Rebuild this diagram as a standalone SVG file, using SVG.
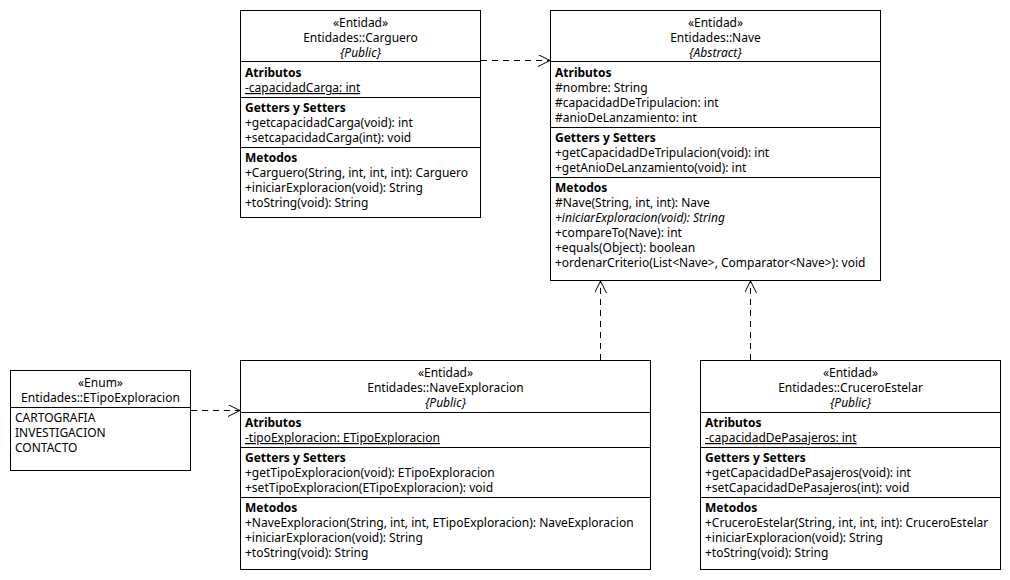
<svg xmlns="http://www.w3.org/2000/svg" width="1010" height="580" viewBox="0 0 1010 580">
<defs>
<style>
.box{fill:#fff;stroke:#000;stroke-width:1}
.div{stroke:#000;stroke-width:1}
text{font-family:"Noto Sans","Open Sans","DejaVu Sans",sans-serif;font-size:12px;fill:#000}
.c{text-anchor:middle}
.b{font-weight:bold}
.i{font-style:italic}
.u{text-decoration:underline}
.dep{fill:none;stroke:#000;stroke-width:1;stroke-dasharray:6,5}
</style>
<marker id="open" markerWidth="14" markerHeight="14" refX="12" refY="6" orient="auto" markerUnits="userSpaceOnUse">
<path d="M0,0 L12,6 L0,12" fill="none" stroke="#000" stroke-width="1"/>
</marker>
</defs>
<rect width="1010" height="580" fill="#fff"/>
<g id="connectors">
<line class="dep" x1="481" y1="60.5" x2="550" y2="60.5" marker-end="url(#open)"/>
<line class="dep" x1="600.5" y1="360" x2="600.5" y2="281" marker-end="url(#open)"/>
<line class="dep" x1="750.5" y1="360" x2="750.5" y2="281" marker-end="url(#open)"/>
<line class="dep" x1="191" y1="410.5" x2="240" y2="410.5" marker-end="url(#open)"/>
</g>
<g id="Carguero">
<rect class="box" x="240.5" y="10.5" width="240" height="207"/>
<line class="div" x1="240.5" y1="61.5" x2="480.5" y2="61.5"/>
<line class="div" x1="240.5" y1="97.5" x2="480.5" y2="97.5"/>
<line class="div" x1="240.5" y1="147.5" x2="480.5" y2="147.5"/>
<text class="c" x="360.5" y="27">«Entidad»</text>
<text class="c" x="360.5" y="42">Entidades::Carguero</text>
<text class="c i" x="360.5" y="57">{Public}</text>
<text class="b" x="245" y="77">Atributos</text>
<text class="u" x="245" y="92">-capacidadCarga: int</text>
<text class="b" x="245" y="112">Getters y Setters</text>
<text x="245" y="127">+getcapacidadCarga(void): int</text>
<text x="245" y="142">+setcapacidadCarga(int): void</text>
<text class="b" x="245" y="162">Metodos</text>
<text x="245" y="177">+Carguero(String, int, int, int): Carguero</text>
<text x="245" y="192">+iniciarExploracion(void): String</text>
<text x="245" y="207">+toString(void): String</text>
</g>
<g id="Nave">
<rect class="box" x="550.5" y="10.5" width="330" height="270"/>
<line class="div" x1="550.5" y1="61.5" x2="880.5" y2="61.5"/>
<line class="div" x1="550.5" y1="127.5" x2="880.5" y2="127.5"/>
<line class="div" x1="550.5" y1="177.5" x2="880.5" y2="177.5"/>
<text class="c" x="715.5" y="27">«Entidad»</text>
<text class="c" x="715.5" y="42">Entidades::Nave</text>
<text class="c i" x="715.5" y="57">{Abstract}</text>
<text class="b" x="555" y="77">Atributos</text>
<text x="555" y="92">#nombre: String</text>
<text x="555" y="107">#capacidadDeTripulacion: int</text>
<text x="555" y="122">#anioDeLanzamiento: int</text>
<text class="b" x="555" y="142">Getters y Setters</text>
<text x="555" y="157">+getCapacidadDeTripulacion(void): int</text>
<text x="555" y="172">+getAnioDeLanzamiento(void): int</text>
<text class="b" x="555" y="192">Metodos</text>
<text x="555" y="207">#Nave(String, int, int): Nave</text>
<text class="i" x="555" y="222">+iniciarExploracion(void): String</text>
<text x="555" y="237">+compareTo(Nave): int</text>
<text x="555" y="252">+equals(Object): boolean</text>
<text x="555" y="267">+ordenarCriterio(List&lt;Nave&gt;, Comparator&lt;Nave&gt;): void</text>
</g>
<g id="ETipoExploracion">
<rect class="box" x="10.5" y="370.5" width="180" height="100"/>
<line class="div" x1="10.5" y1="407.5" x2="190.5" y2="407.5"/>
<text class="c" x="100.5" y="387">«Enum»</text>
<text class="c" x="100.5" y="402">Entidades::ETipoExploracion</text>
<text x="15" y="422">CARTOGRAFIA</text>
<text x="15" y="437">INVESTIGACION</text>
<text x="15" y="452">CONTACTO</text>
</g>
<g id="NaveExploracion">
<rect class="box" x="240.5" y="360.5" width="410" height="209"/>
<line class="div" x1="240.5" y1="412.5" x2="650.5" y2="412.5"/>
<line class="div" x1="240.5" y1="447.5" x2="650.5" y2="447.5"/>
<line class="div" x1="240.5" y1="497.5" x2="650.5" y2="497.5"/>
<text class="c" x="445.5" y="377">«Entidad»</text>
<text class="c" x="445.5" y="392">Entidades::NaveExploracion</text>
<text class="c i" x="445.5" y="407">{Public}</text>
<text class="b" x="245" y="427">Atributos</text>
<text class="u" x="245" y="442">-tipoExploracion: ETipoExploracion</text>
<text class="b" x="245" y="462">Getters y Setters</text>
<text x="245" y="477">+getTipoExploracion(void): ETipoExploracion</text>
<text x="245" y="492">+setTipoExploracion(ETipoExploracion): void</text>
<text class="b" x="245" y="512">Metodos</text>
<text x="245" y="527">+NaveExploracion(String, int, int, ETipoExploracion): NaveExploracion</text>
<text x="245" y="542">+iniciarExploracion(void): String</text>
<text x="245" y="557">+toString(void): String</text>
</g>
<g id="CruceroEstelar">
<rect class="box" x="700.5" y="360.5" width="300" height="209"/>
<line class="div" x1="700.5" y1="412.5" x2="1000.5" y2="412.5"/>
<line class="div" x1="700.5" y1="447.5" x2="1000.5" y2="447.5"/>
<line class="div" x1="700.5" y1="497.5" x2="1000.5" y2="497.5"/>
<text class="c" x="850.5" y="377">«Entidad»</text>
<text class="c" x="850.5" y="392">Entidades::CruceroEstelar</text>
<text class="c i" x="850.5" y="407">{Public}</text>
<text class="b" x="705" y="427">Atributos</text>
<text class="u" x="705" y="442">-capacidadDePasajeros: int</text>
<text class="b" x="705" y="462">Getters y Setters</text>
<text x="705" y="477">+getCapacidadDePasajeros(void): int</text>
<text x="705" y="492">+setCapacidadDePasajeros(int): void</text>
<text class="b" x="705" y="512">Metodos</text>
<text x="705" y="527">+CruceroEstelar(String, int, int, int): CruceroEstelar</text>
<text x="705" y="542">+iniciarExploracion(void): String</text>
<text x="705" y="557">+toString(void): String</text>
</g>
</svg>
